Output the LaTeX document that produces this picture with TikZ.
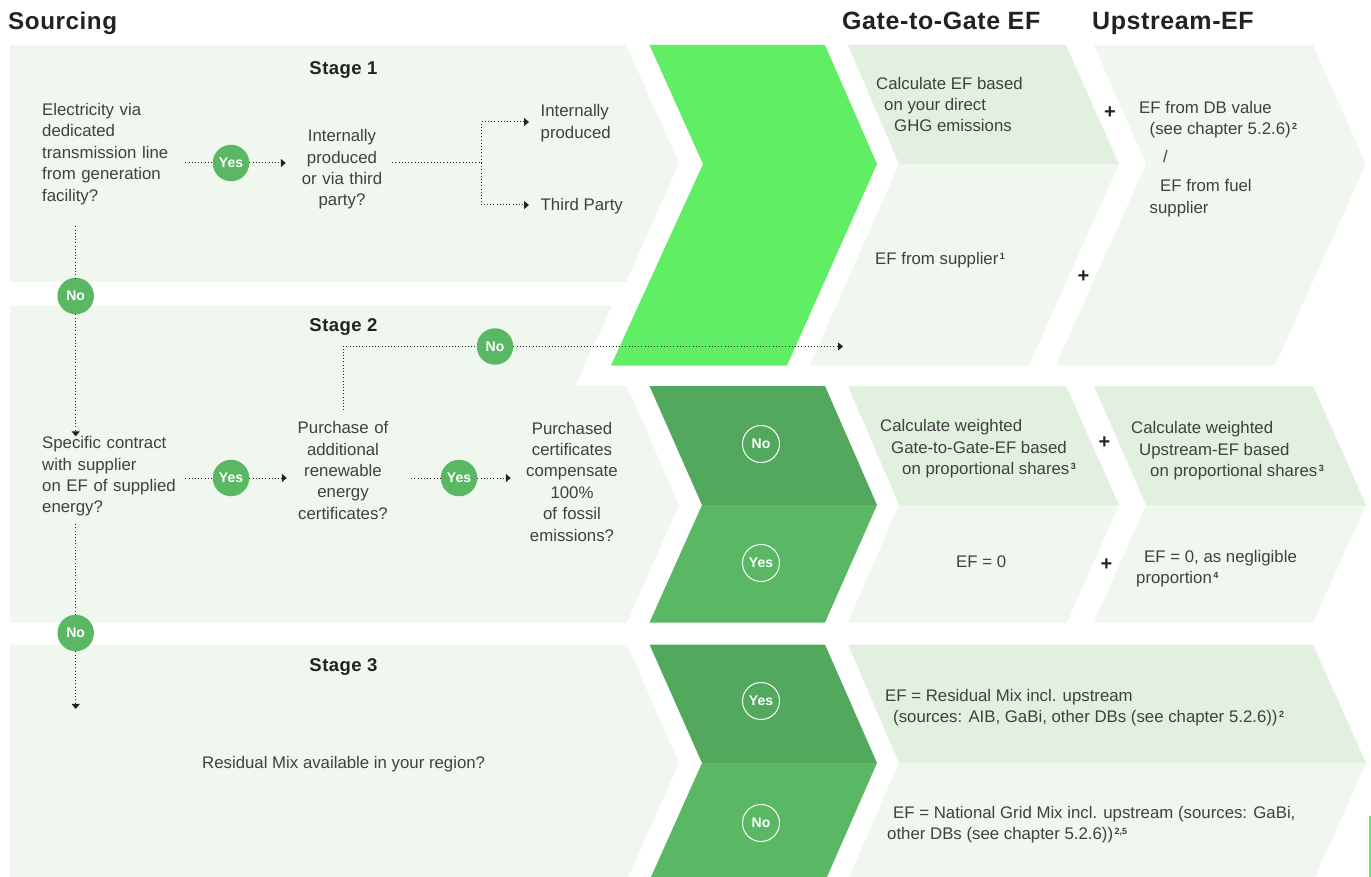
\documentclass[tikz,border=0pt]{standalone}
\usepackage{fontspec}
\setmainfont{Liberation Sans}
\newfontfamily\headfont[LetterSpace=2.4]{Liberation Sans}
\usetikzlibrary{arrows.meta}
\definecolor{palegreen}{HTML}{F0F7EE}
\definecolor{softgreen}{HTML}{E2F0E0}
\definecolor{brightgreen}{HTML}{60EE65}
\definecolor{deepgreen}{HTML}{52A85C}
\definecolor{midgreen}{HTML}{5AB865}
\definecolor{ink}{HTML}{404040}
\definecolor{headink}{HTML}{222222}
\newcommand{\fnote}[1]{\kern1.5pt\raisebox{5pt}{\fontsize{9}{9}\selectfont\bfseries #1}}
\tikzset{
  txt/.style={inner sep=0pt,text=ink,align=left,font=\fontsize{16.8}{21.4}\selectfont},
  ctxt/.style={txt,align=center},
  head/.style={inner sep=0pt,anchor=base west,text=headink,font=\headfont\fontsize{25}{28}\selectfont\bfseries},
  stagehead/.style={inner sep=0pt,anchor=base,text=headink,font=\headfont\fontsize{18.5}{22}\selectfont\bfseries},
  badge/.style={circle,fill=midgreen,minimum size=36.5pt,inner sep=0pt,text=white,font=\fontsize{14}{16}\selectfont\bfseries},
  ringbadge/.style={circle,draw=white,line width=1pt,minimum size=37pt,inner sep=0pt,text=white,font=\fontsize{14}{16}\selectfont\bfseries},
  plus/.style={inner sep=0pt,text=headink,font=\fontsize{20}{22}\selectfont\bfseries},
  dots/.style={draw=headink,line width=1pt,dash pattern=on 1pt off 2.2pt},
  flow/.style={dots,-{Stealth[length=5pt,width=8pt,inset=0pt]}},
}
\begin{document}
\begin{tikzpicture}[x=1pt,y=-1pt]
\useasboundingbox (0,0) rectangle (1371,877);
\fill[white] (0,0) rectangle (1371,877);
% sourcing panels
\fill[palegreen] (10,45) -- (626,45) -- (679,163.5) -- (626,282) -- (10,282) -- cycle;
\fill[palegreen] (10,306) -- (612,306) -- (575,386) -- (627,386) -- (679,505) -- (627,622.5) -- (10,622.5) -- cycle;
\fill[palegreen] (10,644.5) -- (627,644.5) -- (679,763) -- (628,877) -- (10,877) -- cycle;
% central chevrons
\fill[brightgreen] (649.5,45) -- (825,45) -- (877,164) -- (787,365.5) -- (611,365.5) -- (703,164) -- cycle;
\fill[deepgreen] (649.5,386) -- (825,386) -- (877,505) -- (702,505) -- cycle;
\fill[midgreen] (702,505) -- (877,505) -- (825,622.5) -- (649.5,622.5) -- cycle;
\fill[deepgreen] (649.5,644.5) -- (825,644.5) -- (877,763) -- (702,763) -- cycle;
\fill[midgreen] (702,763) -- (877,763) -- (827,877) -- (651,877) -- cycle;
% gate-to-gate column
\fill[softgreen] (848,45) -- (1066,45) -- (1119,164) -- (899,164) -- cycle;
\fill[palegreen] (899,164) -- (1119,164) -- (1029,365.5) -- (810,365.5) -- cycle;
\fill[softgreen] (848,386) -- (1066,386) -- (1119,505) -- (899,505) -- cycle;
\fill[palegreen] (899,505) -- (1119,505) -- (1067,622.5) -- (848,622.5) -- cycle;
% upstream column
\fill[palegreen] (1094,45) -- (1313,45) -- (1366,164) -- (1275,365.5) -- (1056,365.5) -- (1146,164) -- cycle;
\fill[softgreen] (1094,386) -- (1313,386) -- (1366,505) -- (1146,505) -- cycle;
\fill[palegreen] (1146,505) -- (1366,505) -- (1313,622.5) -- (1094,622.5) -- cycle;
% full-width results
\fill[softgreen] (848,644.5) -- (1313,644.5) -- (1366,763) -- (899,763) -- cycle;
\fill[palegreen] (899,763) -- (1366,763) -- (1315,877) -- (849,877) -- cycle;
% edge mark
\fill[brightgreen] (1369,816) rectangle (1371,877);
% headings
\node[head,font=\headfont\fontsize{24.2}{28}\selectfont\bfseries] (hsrc) at (8,29.5) {Sourcing};
\node[head] (hgate) at (842,29.5) {Gate-to-Gate EF};
\node[head] (hup) at (1092,29.5) {Upstream-EF};
\node[stagehead] (s1) at (343.5,75) {Stage 1};
\node[stagehead] (s2) at (343.5,331) {Stage 2};
\node[stagehead] (s3) at (343.5,671) {Stage 3};
% questions
\node[txt,anchor=west,text width=143pt] (q1) at (42,154) {Electricity via\\dedicated\\transmission line\\from generation\\facility?};
\node[ctxt,text width=112pt] (q2) at (342,169.5) {Internally\\produced\\or via third\\party?};
\node[txt,anchor=west] (t1) at (540.5,123) {Internally\\produced};
\node[txt,anchor=west] (t2) at (540.5,206) {Third Party};
\node[txt,anchor=west,text width=143pt] (q3) at (42,476.5) {Specific contract\\with supplier\\on EF of supplied\\energy?};
\node[ctxt,text width=112pt] (q4) at (343,470.5) {Purchase of\\additional\\renewable\\energy\\certificates?};
\node[ctxt,text width=122pt] (q5) at (572,481.5) {Purchased\\certificates\\compensate\\100\%\\of fossil\\emissions?};
\node[txt,anchor=west] (q6) at (202,764) {Residual Mix available in your region?};
% badges
\node[badge] (yes1) at (231,163) {Yes};
\node[badge] (no1) at (75.7,296) {No};
\node[badge] (no3) at (495,346.5) {No};
\node[badge] (yes2) at (231,478) {Yes};
\node[badge] (yes3) at (459,478) {Yes};
\node[badge] (no2) at (75.7,633) {No};
% connectors
\coordinate (j) at (481,163);
\coordinate (goal) at (843,346.5);
\draw[dots] (q1.east |- yes1) -- (yes1);
\draw[flow] (yes1) -- (q2.west |- yes1);
\draw[dots,shorten <=-6pt] (q2.east |- yes1) -- (j);
\draw[flow,shorten >=11.5pt] (j) |- (t1.west |- 0,122);
\draw[flow,shorten >=11.5pt] (j) |- (t2.west |- 0,205);
\draw[dots] (q1.south -| no1) ++(0,21.5) -- (no1);
\draw[flow] (no1) -- (q3.north -| no1);
\draw[dots] (q3.east |- yes2) -- (yes2);
\draw[flow] (yes2) -- (q4.west |- yes2);
\draw[dots,shorten <=12pt] (q4.east |- yes3) -- (yes3);
\draw[flow] (yes3) -- (q5.west |- yes3);
\draw[dots] (q3.south -| no2) ++(0,7.5) -- (no2);
\draw[flow,shorten >=47pt] (no2) -- (q6.north -| no2);
\draw[dots,shorten <=11pt] (q4.north) |- (no3);
\draw[flow] (no3) -- (goal);
% outcome badges
\node[ringbadge] (r1) at (761,444) {No};
\node[ringbadge] (r2) at (761,563) {Yes};
\node[ringbadge] (r3) at (761,701) {Yes};
\node[ringbadge] (r4) at (761,823) {No};
% gate-to-gate texts
\node[txt,anchor=west] (g1) at (876,104.5) {Calculate EF based\\\hspace*{8pt}on your direct\\\hspace*{18pt}GHG emissions};
\node[txt,anchor=west] (g2) at (875,260.5) {EF from supplier\fnote{1}};
\node[txt,anchor=west] (g3) at (880,449) {Calculate weighted\\\hspace*{11pt}Gate-to-Gate-EF based\\\hspace*{22pt}on proportional shares\fnote{3}};
\node[txt,anchor=west] (g4) at (956,561.5) {EF = 0};
% upstream texts
\node[txt,anchor=west] (u1) at (1139,159) {EF from DB value\\[0pt]\hspace*{10.5pt}(see chapter 5.2.6)\fnote{2}\\[6.5pt]\hspace*{24pt}/\\[7.5pt]\hspace*{21pt}EF from fuel\\\hspace*{10.5pt}supplier};
\node[txt,anchor=west] (u2) at (1131,451) {Calculate weighted\\\hspace*{8pt}Upstream-EF based\\\hspace*{19pt}on proportional shares\fnote{3}};
\node[txt,anchor=west] (u3) at (1136,568.5) {\hspace*{8pt}EF = 0, as negligible\\proportion\fnote{4}};
% full-width result texts
\node[txt,anchor=west] (m1) at (885,707.5) {EF = Residual Mix incl. upstream\\\hspace*{8pt}(sources: AIB, GaBi, other DBs (see chapter 5.2.6))\fnote{2}};
\node[txt,anchor=west] (m2) at (887,824.5) {\hspace*{6pt}EF = National Grid Mix incl. upstream (sources: GaBi,\\other DBs (see chapter 5.2.6))\fnote{2,5}};
% plus signs
\node[plus] (p1) at (1110,112.5) {+};
\node[plus] (p2) at (1083.5,277) {+};
\node[plus] (p3) at (1104.5,443) {+};
\node[plus] (p4) at (1106.5,565) {+};
\end{tikzpicture}
\end{document}
